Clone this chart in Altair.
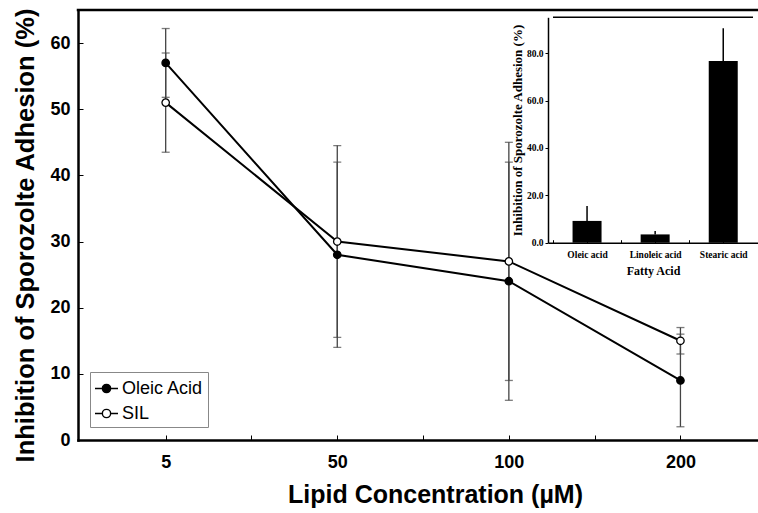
import altair as alt
import pandas as pd

# ---------------- data ----------------
conc_labels = ["5", "50", "100", "200"]
conc_pos = [1, 2, 3, 4]
oleic_vals = [57, 28, 24, 9]
oleic_err = [5.2, 14, 18, 7]
sil_vals = [51, 30, 27, 15]
sil_err = [7.5, 14.5, 18, 2]
series_names = ["Oleic Acid", "SIL"]

acids = ["Oleic acid", "Linoleic acid", "Stearic acid"]
acid_pos = [0, 1, 2]
acid_vals = [9.2, 3.5, 76.7]
acid_err = [6.3, 1.4, 13.9]

X_DOMAIN = [0.489, 4.452]
Y_MAX = 65
XI_DOMAIN = [-0.5, 2.437]
INSET_Y_MAX = 95.2

rows = []
for name, vals, errs in [(series_names[0], oleic_vals, oleic_err),
                         (series_names[1], sil_vals, sil_err)]:
    for p, lab, v, e in zip(conc_pos, conc_labels, vals, errs):
        rows.append({"series": name, "pos": p, "conc": lab, "value": v,
                     "lo": v - e, "hi": v + e})
main_df = pd.DataFrame(rows)
frame_df = pd.DataFrame({"value": [Y_MAX], "x0": [X_DOMAIN[0]], "x1": [X_DOMAIN[1]]})

inset_df = pd.DataFrame({
    "acid": acids, "pos": acid_pos, "value": acid_vals,
    "hi": [v + e for v, e in zip(acid_vals, acid_err)],
})
inset_frame_df = pd.DataFrame({"value": [INSET_Y_MAX], "x0": [XI_DOMAIN[0]], "x1": [XI_DOMAIN[1]]})

SANS = "Liberation Sans"
SERIF = "Liberation Serif"

# ---------------- main chart ----------------
lab_js = "[" + ",".join("'" + s + "'" for s in conc_labels) + "]"
x_scale = alt.Scale(domain=X_DOMAIN, nice=False, zero=False)
x_axis = alt.Axis(
    values=[1, 1.5, 2, 2.5, 3, 3.5, 4],
    labelExpr="datum.value % 1 == 0 ? " + lab_js + "[datum.value - 1] : ''",
    title="Lipid Concentration (µM)",
    titleFont=SANS, titleFontSize=25, titleFontWeight="bold", titleColor="black",
    titleX=357, titleY=62, titleBaseline="alphabetic",
    labelFont=SANS, labelFontSize=18, labelFontWeight="bold", labelColor="black",
    labelPadding=18, labelOverlap=False,
    tickSize={"expr": "-5"}, tickColor="black", tickWidth=1,
    domainColor="black", domainWidth=2.5, domainCap="square", grid=False,
)
y_scale = alt.Scale(domain=[0, Y_MAX], nice=False, zero=True)
y_axis = alt.Axis(
    values=[0, 10, 20, 30, 40, 50, 60],
    title="Inhibition of Sporozolte Adhesion (%)",
    titleFont=SANS, titleFontSize=25.5, titleFontWeight="bold", titleColor="black",
    titleX=-45, titleY=225, titleBaseline="alphabetic", titleAngle=270, titleAlign="center",
    labelFont=SANS, labelFontSize=18, labelFontWeight="bold", labelColor="black",
    labelPadding=13,
    tickSize={"expr": "-5"}, tickColor="black", tickWidth=1,
    domainColor="black", domainWidth=2.5, domainCap="square", grid=False,
)

def X(field):
    return alt.X(field, type="quantitative", scale=x_scale, axis=x_axis)

def Y(field):
    return alt.Y(field, type="quantitative", scale=y_scale, axis=y_axis)

legend_symbol = ("M-1,0L-0.36,0M0.36,0L1,0"
                 "M0.36,0A0.36,0.36,0,1,1,-0.36,0A0.36,0.36,0,1,1,0.36,0Z")

top_frame = alt.Chart(frame_df).mark_rule(color="black", strokeWidth=2.5, strokeCap="square").encode(
    x=X("x0"), x2="x1", y=Y("value")
)

err_rule = alt.Chart(main_df).mark_rule(color="#444444", strokeWidth=1.3).encode(
    x=X("pos"), y=Y("lo"), y2="hi"
)
err_lo = alt.Chart(main_df).mark_tick(color="#444444", orient="horizontal", size=8, thickness=1.3).encode(
    x=X("pos"), y=Y("lo")
)
err_hi = alt.Chart(main_df).mark_tick(color="#444444", orient="horizontal", size=8, thickness=1.3).encode(
    x=X("pos"), y=Y("hi")
)
lines = alt.Chart(main_df).mark_line(color="black", strokeWidth=2).encode(
    x=X("pos"), y=Y("value"), detail="series:N"
)
points = alt.Chart(main_df).mark_point(
    shape="circle", size=55, stroke="black", strokeWidth=1.3, opacity=1, fillOpacity=1
).encode(
    x=X("pos"), y=Y("value"),
    fill=alt.Fill(
        "series:N",
        scale=alt.Scale(domain=series_names, range=["black", "white"]),
        legend=alt.Legend(
            title=None, orient="none", legendX=12, legendY=362,
            symbolType=legend_symbol, symbolSize=529,
            symbolStrokeColor="black", symbolStrokeWidth=1.4, symbolOpacity=1,
            labelFont=SANS, labelFontSize=18, labelColor="black", labelOffset=3,
            rowPadding=3, padding=4, strokeColor="#888888", fillColor="white",
            cornerRadius=0,
        ),
    ),
)

main = alt.layer(top_frame, err_rule, err_lo, err_hi, lines, points)

# ---------------- inset chart ----------------
acid_js = "[" + ",".join("'" + s + "'" for s in acids) + "]"
xi_scale = alt.Scale(domain=XI_DOMAIN, range=[470, 680], nice=False, zero=False)
xi_axis = alt.Axis(
    orient="bottom", offset=-197.3,
    values=[-0.5, 0, 0.5, 1, 1.5, 2],
    labelExpr="datum.value % 1 == 0 && datum.value >= 0 ? " + acid_js + "[datum.value] : ''",
    title="Fatty Acid", titleFont=SERIF, titleFontSize=12, titleFontWeight="bold",
    titleColor="black", titlePadding=6,
    labelFont=SERIF, labelFontSize=9.5, labelFontWeight="bold", labelColor="black",
    labelPadding=10, labelOverlap=False,
    tickSize={"expr": "-3"}, tickColor="black", tickWidth=1,
    domainColor="black", domainWidth=1.5, grid=False, zindex=0,
)
yi_scale = alt.Scale(domain=[0, INSET_Y_MAX], range=[232.7, 7.3], nice=False, zero=True)
yi_axis = alt.Axis(
    orient="left", offset=-470,
    values=[0, 20, 40, 60, 80], format=".1f",
    title="Inhibition of Sporozolte Adhesion (%)",
    titleFont=SERIF, titleFontSize=13, titleFontWeight="bold", titleColor="black",
    titlePadding=2,
    labelFont=SERIF, labelFontSize=9.5, labelFontWeight="bold", labelColor="black",
    labelPadding=2, tickSize=3, tickColor="black", tickWidth=1,
    domainColor="black", domainWidth=1.5, grid=False,
)

def XI(field):
    return alt.X(field, type="quantitative", scale=xi_scale, axis=xi_axis)

def YI(field):
    return alt.Y(field, type="quantitative", scale=yi_scale, axis=yi_axis)

inset_top = alt.Chart(inset_frame_df).mark_rule(color="black", strokeWidth=1.5).encode(
    x=XI("x0"), x2="x1", y=YI("value")
)
inset_err = alt.Chart(inset_df).mark_rule(color="black", strokeWidth=1.5).encode(
    x=XI("pos"), y=YI("value"), y2="hi"
)
inset_bars = alt.Chart(inset_df).mark_bar(color="black", size=29).encode(
    x=XI("pos"), y=YI("value")
)
inset = alt.layer(inset_top, inset_err, inset_bars)

chart = alt.layer(main, inset).resolve_scale(
    x="independent", y="independent"
).properties(
    width=680, height=430,
    padding={"left": 78, "top": 10, "right": 0, "bottom": 73},
    autosize=alt.AutoSizeParams(type="none"),
    background="white",
).configure_view(stroke=None)

chart.save("out.html", embed_options={"renderer": "svg", "actions": False})
